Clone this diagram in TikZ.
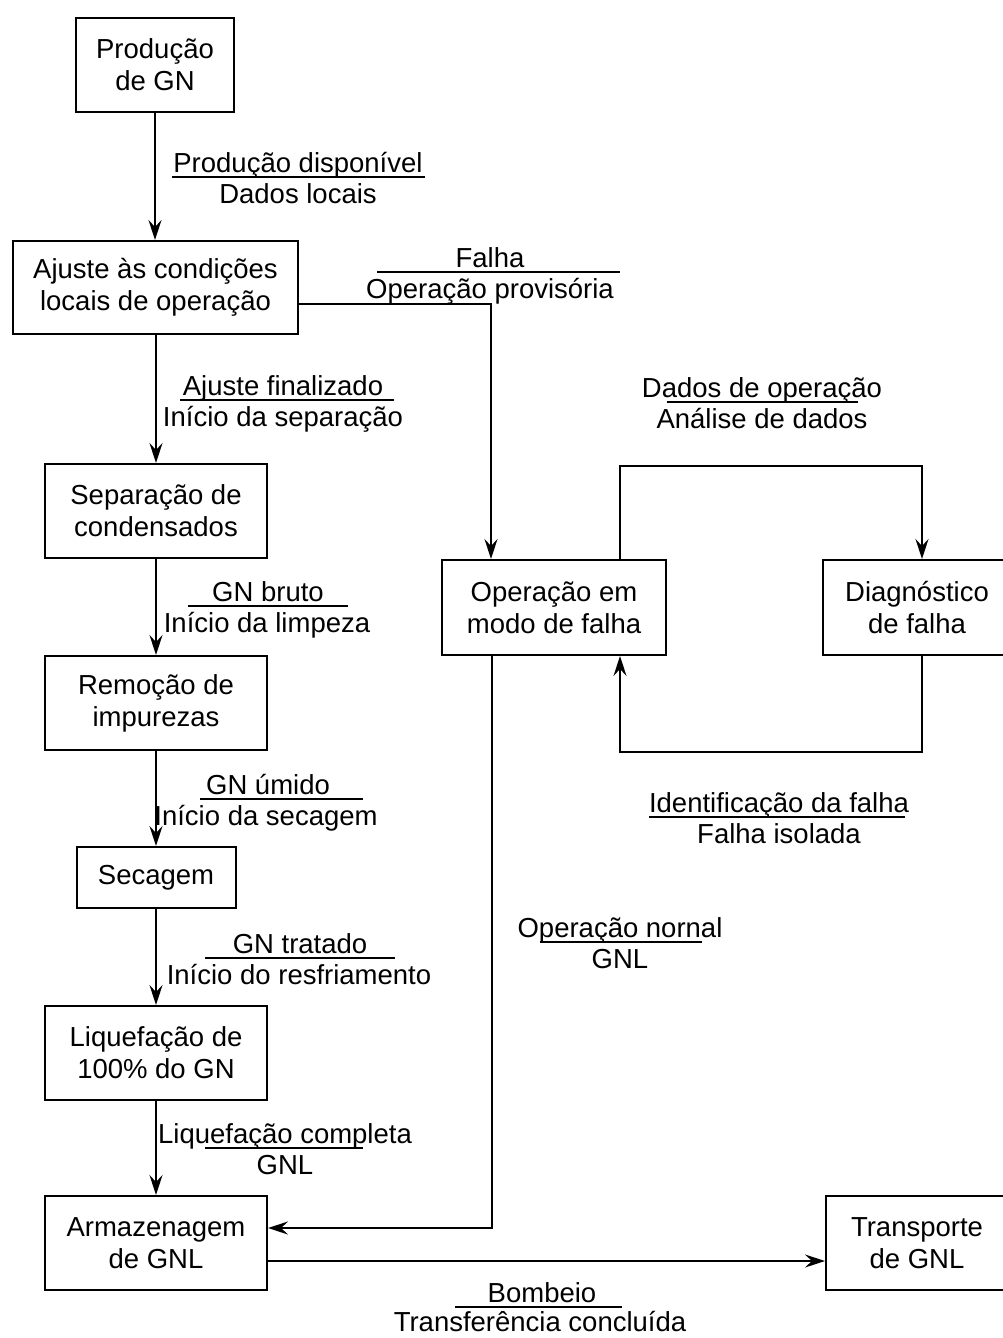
\documentclass[tikz,border=0pt]{standalone}
\usepackage{fontspec}
\setmainfont{Liberation Sans}
\usetikzlibrary{arrows.meta}

\begin{document}
\begin{tikzpicture}[
  x=1pt, y=-1pt,
  font=\fontsize{27.5}{32}\selectfont,
  stage/.style={draw, line width=2pt, align=center, inner sep=0pt},
  arr/.style={line width=2pt, -{Stealth[length=20pt, width=13pt, inset=7pt]}},
  lbl/.style={anchor=base, inner sep=0pt},
  rule/.style={line width=1.8pt}
]
\useasboundingbox (0,0) rectangle (1003,1338);
\clip (0,0) rectangle (1003,1338);

% process stages
\node[stage, minimum width=158pt, minimum height=94pt] (prod) at (155,65) {Produção\\de GN};
\node[stage, minimum width=285pt, minimum height=93pt] (ajuste) at (155.5,287.5) {Ajuste às condições\\locais de operação};
\node[stage, minimum width=222pt, minimum height=94pt] (sep) at (156,511) {Separação de\\condensados};
\node[stage, minimum width=222pt, minimum height=94pt] (rem) at (156,703) {Remoção de\\impurezas};
\node[stage, minimum width=159pt, minimum height=61pt] (sec) at (156,877.5) {Secagem};
\node[stage, minimum width=222pt, minimum height=94pt] (liq) at (156,1053) {Liquefação de\\100\% do GN};
\node[stage, minimum width=222pt, minimum height=94pt] (arm) at (156,1243) {Armazenagem\\de GNL};
\node[stage, minimum width=182pt, minimum height=94pt] (trans) at (917,1243) {Transporte\\de GNL};
\node[stage, minimum width=224pt, minimum height=95pt] (opf) at (554,607.5) {Operação em\\modo de falha};
\node[stage, minimum width=188pt, minimum height=95pt] (diag) at (917,607.5) {Diagnóstico\\de falha};

% main chain
\draw[arr] (prod.south) -- (prod.south |- ajuste.north);
\draw[arr] ([xshift=0.5pt]ajuste.south) -- ([xshift=0.5pt]ajuste.south |- sep.north);
\draw[arr] (sep.south) -- (sep.south |- rem.north);
\draw[arr] (rem.south) -- (rem.south |- sec.north);
\draw[arr] (sec.south) -- (sec.south |- liq.north);
\draw[arr] (liq.south) -- (liq.south |- arm.north);

% fault branch
\draw[arr] ([yshift=-16.5pt]ajuste.east) -| ([xshift=-63pt]opf.north);
\coordinate (lt) at (620,466);
\coordinate (lb) at (620,752);
\draw[arr] (opf.north -| lt) -- (lt) -| ([xshift=5pt]diag.north);
\draw[arr] ([xshift=5pt]diag.south) |- (lb) -- (lb |- opf.south);
\draw[arr] ([xshift=-62pt]opf.south) |- ([yshift=15pt]arm.east);

% shipment
\draw[arr] ([yshift=-18pt]arm.east) -- ([yshift=-18pt]trans.west);

% transition labels
\node[lbl] (l1t) at (298,172) {Produção disponível};
\node[lbl] (l1b) at (298,203) {Dados locais};
\draw[rule] (172,177) -- (425,177);

\node[lbl] (l2t) at (490,267) {Falha};
\node[lbl] (l2b) at (490,298) {Operação provisória};
\draw[rule] (377,272) -- (620,272);

\node[lbl] (l3t) at (283,395) {Ajuste finalizado};
\node[lbl] (l3b) at (283,426) {Início da separação};
\draw[rule] (180,400) -- (394,400);

\node[lbl] (l4t) at (762,397) {Dados de operação};
\node[lbl] (l4b) at (762,428) {Análise de dados};
\draw[rule] (667,402) -- (858,402);

\node[lbl] (l5t) at (268,601) {GN bruto};
\node[lbl] (l5b) at (267,632) {Início da limpeza};
\draw[rule] (188,606) -- (348,606);

\node[lbl] (l6t) at (268,794) {GN úmido};
\node[lbl] (l6b) at (266,825) {Início da secagem};
\draw[rule] (200,799) -- (363,799);

\node[lbl] (l7t) at (300,953) {GN tratado};
\node[lbl] (l7b) at (299,984) {Início do resfriamento};
\draw[rule] (205,958) -- (395,958);

\node[lbl] (l8t) at (779,812) {Identificação da falha};
\node[lbl] (l8b) at (779,843) {Falha isolada};
\draw[rule] (649,817) -- (905,817);

\node[lbl] (l9t) at (620,937) {Operação nornal};
\node[lbl] (l9b) at (620,968) {GNL};
\draw[rule] (540,942) -- (702,942);

\node[lbl] (l10t) at (285,1143) {Liquefação completa};
\node[lbl] (l10b) at (285,1174) {GNL};
\draw[rule] (205,1148) -- (363,1148);

\node[lbl] (l11t) at (542,1302) {Bombeio};
\node[lbl] (l11b) at (540,1331) {Transferência concluída};
\draw[rule] (455,1307) -- (622,1307);
\end{tikzpicture}
\end{document}
